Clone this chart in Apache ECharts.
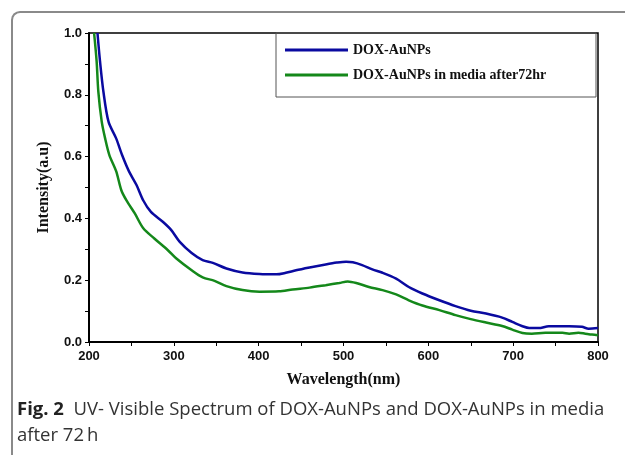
<!DOCTYPE html>
<html>
<head>
<meta charset="utf-8">
<script src="https://cdn.jsdelivr.net/npm/echarts@6/dist/echarts.min.js"></script>
<style>
	html, body { margin: 0; padding: 0; background: #fff; }
	#uv { width: 625px; height: 455px; }
</style>
</head>
<body>
<div id="uv"></div>
<script>
// series names
var seriesNames = ['DOX-AuNPs', 'DOX-AuNPs in media after72hr'];

// DOX-AuNPs (blue)
var wlBlue = [210, 213, 217, 223, 232, 239, 247, 256, 264, 273, 287, 297, 307, 321, 334, 346, 362, 381, 401, 421, 432, 444, 460, 479, 492, 503, 511, 522, 534, 546, 562, 577, 593, 613, 632, 650, 668, 687, 699, 711, 719, 730, 742, 766, 781, 789, 800];
var intBlue = [1.0, 0.908, 0.81, 0.713, 0.659, 0.605, 0.553, 0.508, 0.458, 0.421, 0.389, 0.362, 0.324, 0.288, 0.265, 0.256, 0.238, 0.225, 0.220, 0.219, 0.224, 0.232, 0.241, 0.251, 0.257, 0.260, 0.258, 0.249, 0.235, 0.224, 0.205, 0.178, 0.157, 0.135, 0.116, 0.101, 0.092, 0.079, 0.065, 0.051, 0.045, 0.045, 0.051, 0.051, 0.049, 0.043, 0.045];

// DOX-AuNPs in media after 72hr (green)
var wlGreen = [206, 209, 211, 215, 219, 224, 232, 238, 244, 254, 264, 277, 293, 303, 321, 334, 348, 362, 381, 401, 424, 440, 460, 479, 495, 505, 515, 530, 546, 562, 577, 593, 613, 632, 650, 668, 687, 699, 711, 722, 738, 758, 766, 777, 785, 793, 800];
var intGreen = [1.0, 0.908, 0.81, 0.713, 0.659, 0.605, 0.553, 0.492, 0.459, 0.416, 0.368, 0.335, 0.297, 0.270, 0.232, 0.209, 0.198, 0.181, 0.168, 0.163, 0.164, 0.170, 0.176, 0.184, 0.191, 0.196, 0.191, 0.178, 0.168, 0.154, 0.135, 0.118, 0.103, 0.087, 0.074, 0.063, 0.052, 0.040, 0.029, 0.027, 0.030, 0.030, 0.027, 0.030, 0.027, 0.024, 0.022];

var captionBold = 'Fig. 2';
var captionText = 'UV- Visible Spectrum of DOX-AuNPs and DOX-AuNPs in media';
var captionText2 = 'after 72\u2009h';

function pairs(xs, ys) {
	var out = [];
	for (var i = 0; i < xs.length; i++) {
		out.push([xs[i], ys[i]]);
	}
	return out;
}

var main = {
	init: function() {
		main.spectrum()
	},
	spectrum: function() {
		var myChart = echarts.init(document.getElementById('uv'));

		var tickFont = {
			color: '#111',
			fontSize: 13,
			fontWeight: 'bold',
			fontFamily: 'Liberation Sans'
		};
		var nameFont = {
			color: '#111',
			fontSize: 16,
			fontWeight: 'bold',
			fontFamily: 'Liberation Serif'
		};

		var option = {
			animation: false,
			color: ['#0a0aa0', '#14881a'],
			grid: {
				left: 89,
				right: 27,
				top: 33,
				bottom: 113,
				show: true,
				borderColor: '#000',
				borderWidth: 1.5
			},
			legend: {
				orient: 'vertical',
				left: 280,
				top: 38,
				icon: 'rect',
				itemWidth: 63,
				itemHeight: 3,
				itemGap: 11,
				textStyle: {
					color: '#111',
					fontSize: 14,
					fontWeight: 'bold',
					fontFamily: 'Liberation Serif',
					padding: [6, 0, 0, 0]
				},
				data: seriesNames
			},
			xAxis: {
				type: 'value',
				min: 200,
				max: 800,
				interval: 100,
				name: 'Wavelength(nm)',
				nameLocation: 'middle',
				nameGap: 30,
				nameTextStyle: nameFont,
				splitLine: { show: false },
				axisLine: { lineStyle: { color: '#000', width: 2 } },
				axisTick: { show: true, length: 4, lineStyle: { color: '#000' } },
				minorTick: { show: true, splitNumber: 2, length: 4, lineStyle: { color: '#000' } },
				axisLabel: Object.assign({ margin: 8 }, tickFont)
			},
			yAxis: {
				type: 'value',
				min: 0,
				max: 1,
				interval: 0.2,
				name: 'Intensity(a.u)',
				nameLocation: 'middle',
				nameGap: 37,
				nameTextStyle: nameFont,
				splitLine: { show: false },
				axisLine: { lineStyle: { color: '#000', width: 2 } },
				axisTick: { show: true, length: 4, lineStyle: { color: '#000' } },
				minorTick: { show: true, splitNumber: 2, length: 4, lineStyle: { color: '#000' } },
				axisLabel: Object.assign({
					margin: 7,
					formatter: function(v) { return v.toFixed(1); }
				}, tickFont)
			},
			graphic: [{
				// outer figure frame: left + top edge with rounded corner
				type: 'polyline',
				shape: { points: [[12, 456], [12, 20], [12.6, 16.9], [14.3, 14.3], [16.9, 12.6], [20, 12], [640, 12]] },
				style: { fill: 'none', stroke: '#8a8a8a', lineWidth: 2 },
				silent: true
			}, {
				// legend box
				type: 'rect',
				shape: { x: 276, y: 33, width: 320, height: 64 },
				style: { fill: 'none', stroke: '#555', lineWidth: 1 },
				silent: true
			}, {
				type: 'text',
				left: 17,
				top: 397,
				style: {
					text: '{b|' + captionBold + '}  ' + captionText + '\n' + captionText2,
					fill: '#333',
					fontSize: 18.5,
					lineHeight: 26,
					fontFamily: 'Open Sans',
					rich: {
						b: {
							fontWeight: 'bold',
							fill: '#222',
							fontSize: 18.5,
							fontFamily: 'Open Sans'
						}
					}
				}
			}],
			series: [{
				name: seriesNames[0],
				type: 'line',
				showSymbol: false,
				smooth: 0.3,
				lineStyle: { width: 2.5 },
				data: pairs(wlBlue, intBlue)
			}, {
				name: seriesNames[1],
				type: 'line',
				showSymbol: false,
				smooth: 0.3,
				lineStyle: { width: 2.5 },
				data: pairs(wlGreen, intGreen)
			}]
		};

		myChart.setOption(option);
	}
}

main.init()
</script>
</body>
</html>
